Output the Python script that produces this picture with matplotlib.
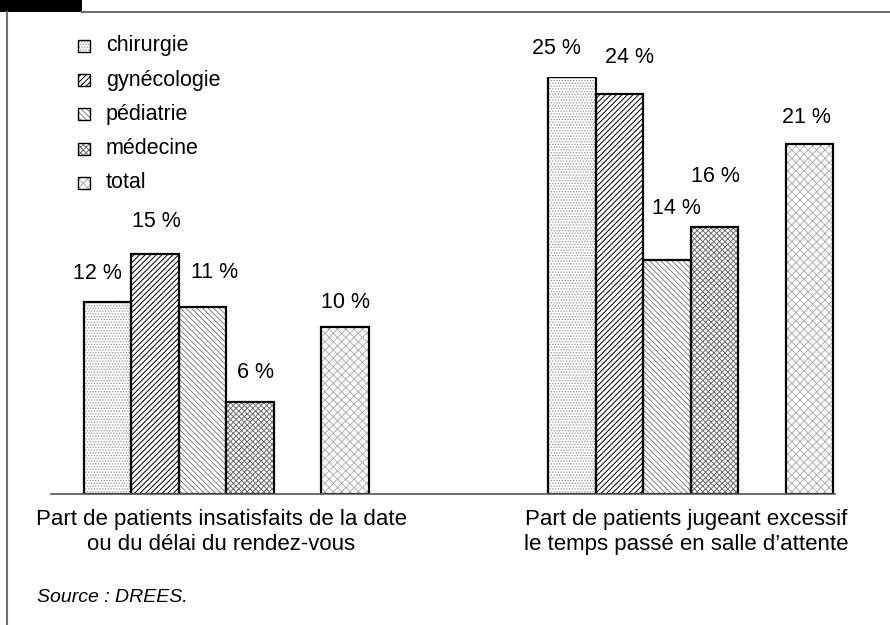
import matplotlib
matplotlib.use("Agg")
import matplotlib.pyplot as plt
from matplotlib.patches import Rectangle
from matplotlib.lines import Line2D

plt.rcParams["font.family"] = ["Liberation Sans", "DejaVu Sans"]
plt.rcParams["hatch.linewidth"] = 0.7

services = ["chirurgie", "gynécologie", "pédiatrie", "médecine", "total"]
groups = ["Part de patients insatisfaits de la date\nou du délai du rendez-vous",
          "Part de patients jugeant excessif\nle temps passé en salle d’attente"]
rdv_values = [11.5, 14.4, 11.2, 5.5, 10]
rdv_labels = ["12 %", "15 %", "11 %", "6 %", "10 %"]
wait_values = [25, 24, 14, 16, 21]
wait_labels = ["25 %", "24 %", "14 %", "16 %", "21 %"]

# styling per service
hatches = ["......", "//////", "\\\\\\\\\\\\", "xxxxxx", "xxxx"]
hatch_colors = ["#a0a0a0", "#000000", "#808080", "#707070", "#b0b0b0"]
slots = [0, 1, 2, 3, 5]
group_starts = [0, 9.78]
# label offsets in pixels (dx, dy above bar top)
rdv_offsets = [(-10, 29), (1, 32), (12, 35), (6, 30), (1, 25)]
wait_offsets = [(-15, 29), (10, 36), (10, 52), (1, 51), (-3, 26)]

W, H = 890, 625
fig = plt.figure(figsize=(W / 100, H / 100), dpi=100)
ax = fig.add_axes([51 / W, 131 / H, 784 / W, 417 / H])
ax.set_xlim(-1.19, 15.32)
ax.set_ylim(0, 25)
ax.axis("off")

data = [(rdv_values, rdv_labels, rdv_offsets), (wait_values, wait_labels, wait_offsets)]
for g, (vals, labs, offs) in zip(group_starts, data):
    xs = [g + s for s in slots]
    ax.bar(xs, vals, width=1.0, color="white", hatch=hatches,
           edgecolor=hatch_colors, linewidth=0)
    ax.bar(xs, vals, width=1.0, fill=False, edgecolor="black", linewidth=1.6)
    for x, v, lab, (dx, dy) in zip(xs, vals, labs, offs):
        ax.annotate(lab, xy=(x, v), xytext=(dx, dy), textcoords="offset pixels",
                    ha="center", va="center", fontsize=15.5)

ax.axhline(0, color="#555555", lw=1.2, clip_on=False)

for g, name in zip(group_starts, groups):
    ax.annotate(name, xy=(g + 2.4, 0), xytext=(0, -38), textcoords="offset pixels",
                ha="center", va="center", fontsize=16, linespacing=1.2)

# legend
for i, (name, h, hc) in enumerate(zip(services, hatches, hatch_colors)):
    yc = 46 + 34.2 * i
    fig.add_artist(Rectangle((78 / W, 1 - (yc + 6) / H), 12 / W, 12 / H,
                             facecolor="white", hatch=h, edgecolor=hc, lw=0))
    fig.add_artist(Rectangle((78 / W, 1 - (yc + 6) / H), 12 / W, 12 / H,
                             fill=False, edgecolor="black", lw=1))
    fig.text(106 / W, 1 - yc / H, name, ha="left", va="center", fontsize=15.5)

fig.text(37 / W, 1 - 598 / H, "Source : DREES.", style="italic",
         ha="left", va="center", fontsize=14)

# frame
fig.add_artist(Rectangle((0, 1 - 12 / H), 82 / W, 12 / H, color="black", lw=0))
fig.add_artist(Line2D([82 / W, 1], [1 - 12 / H, 1 - 12 / H], color="#707070", lw=1.5))
fig.add_artist(Line2D([7 / W, 7 / W], [0, 1 - 12 / H], color="#707070", lw=1.5))

fig.savefig("out.png", dpi=100)
